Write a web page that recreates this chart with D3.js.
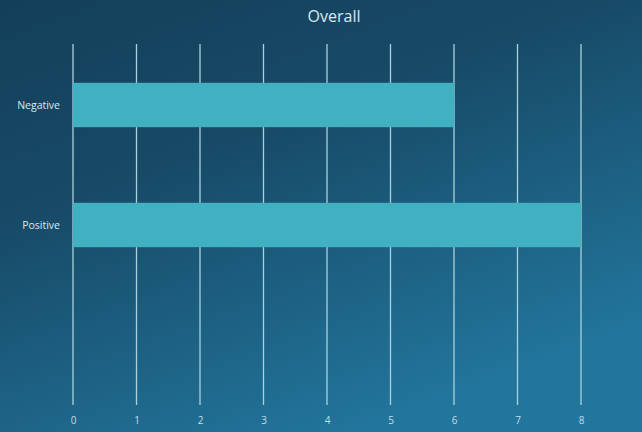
<!DOCTYPE html>
<html><head><meta charset="utf-8">
<script src="https://cdn.jsdelivr.net/npm/d3@7"></script>
<style>html,body{margin:0;padding:0;background:#174661;}svg{display:block;}</style>
</head><body>
<script>
const title = "Overall";
const categories = ["Negative", "Positive"];
const values = [6, 8];
const xTicks = [0, 1, 2, 3, 4, 5, 6, 7, 8];

const W = 642, H = 432;
const svg = d3.select("body").append("svg").attr("width", W).attr("height", H);
const defs = svg.append("defs");
const grad = defs.append("linearGradient").attr("id", "bg")
  .attr("x1", "0%").attr("y1", "0%").attr("x2", "55%").attr("y2", "100%");
grad.append("stop").attr("offset", "0%").attr("stop-color", "#143f5a");
grad.append("stop").attr("offset", "40%").attr("stop-color", "#174a67");
grad.append("stop").attr("offset", "100%").attr("stop-color", "#22759c");
svg.append("rect").attr("width", W).attr("height", H).attr("fill", "url(#bg)");

const x = d3.scaleLinear().domain([0, 8]).range([73, 581]);
const y = d3.scaleBand().domain(categories).range([44, 284])
  .paddingInner(0.63).paddingOuter(0.315);

const gridTop = 44, gridBottom = 405;

// gridlines
svg.append("g").selectAll("line").data(xTicks).join("line")
  .attr("x1", d => x(d)).attr("x2", d => x(d))
  .attr("y1", gridTop).attr("y2", gridBottom)
  .attr("stroke", "#a9d2de").attr("stroke-width", 1.3);

// bars
svg.append("g").selectAll("rect").data(categories).join("rect")
  .attr("x", x(0))
  .attr("y", d => y(d) + 1)
  .attr("width", (d, i) => x(values[i]) - x(0))
  .attr("height", y.bandwidth())
  .attr("fill", "#41b1c2");

// x axis labels
const xAxis = d3.axisBottom(x).tickValues(xTicks).tickSize(0).tickPadding(0);
const gx = svg.append("g").attr("transform", `translate(0,${gridBottom + 12})`).call(xAxis);
gx.select(".domain").remove();
gx.selectAll("text").attr("fill", "#c3dde7").attr("font-family", "Open Sans, sans-serif").attr("font-size", 10);

// y axis labels
const yAxis = d3.axisLeft(y).tickSize(0).tickPadding(13);
const gy = svg.append("g").attr("transform", `translate(${x(0)},2)`).call(yAxis);
gy.select(".domain").remove();
gy.selectAll("text").attr("fill", "#dbe9ef").attr("font-family", "Open Sans, sans-serif").attr("font-size", 10.5);

// title
svg.append("text").attr("x", 334).attr("y", 22).attr("text-anchor", "middle")
  .attr("fill", "#dbe9ef").attr("font-family", "Open Sans, sans-serif").attr("font-size", 16)
  .text(title);
</script>
</body></html>
